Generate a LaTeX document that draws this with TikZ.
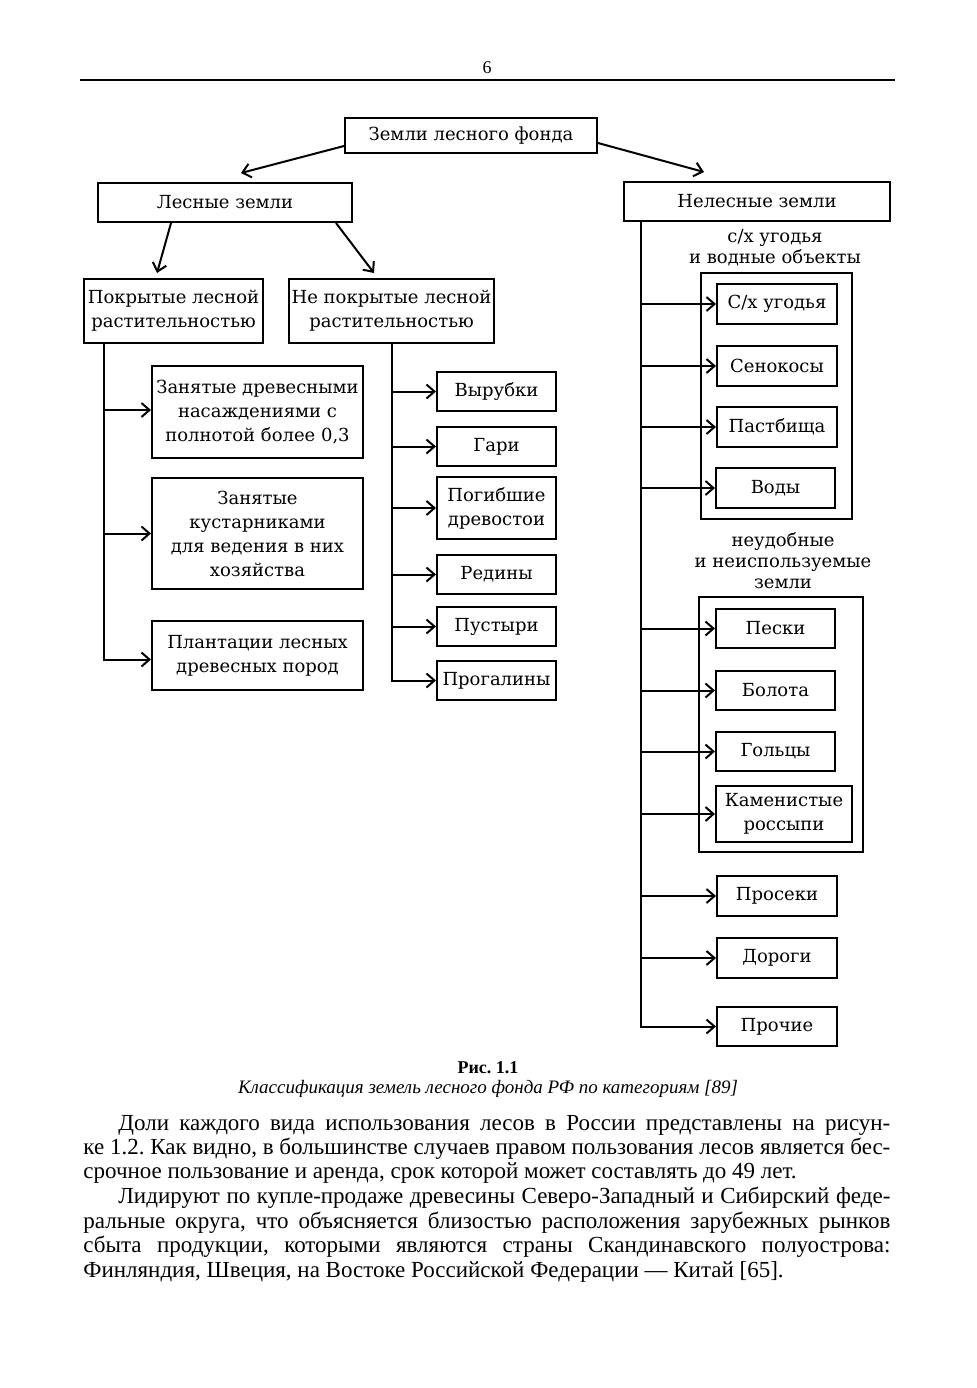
\documentclass[tikz,border=0pt]{standalone}
\usepackage{fontspec}
\setmainfont{Liberation Serif}
\newfontfamily\boxfont{DejaVu Serif}
\usetikzlibrary{arrows.meta,calc}
\frenchspacing
\newcommand\bx[6]{\node[box,minimum width={(#4-#2)*0.5pt},minimum height={(#5-#3)*0.5pt}] (#1) at ({(#2+#4)/2},{(#3+#5)/2}) {#6};}
\begin{document}
\begin{tikzpicture}[x=0.5pt,y=-0.5pt,
  box/.style={draw,line width=1pt,inner sep=0pt,align=center,font=\boxfont\fontsize{9}{12}\selectfont},
  grp/.style={draw,line width=1pt,inner sep=0pt},
  arr/.style={line width=1pt,-{Straight Barb[length=4pt,width=7pt,line width=1pt]}},
  ln/.style={line width=1pt},
  lab/.style={inner sep=0pt,align=center,font=\boxfont\fontsize{9}{10.5}\selectfont},
  body/.style={inner sep=0pt,anchor=base west,font=\fontsize{11.5}{12}\selectfont}]
\useasboundingbox (0,0) rectangle (976,1388);
% header
\node[inner sep=0pt,font=\fontsize{9}{10}\selectfont] (pg) at (487,68) {6};
\draw[line width=0.8pt] (80,80) -- (895,80);
% level 0,1
\bx{top}{345}{118}{597}{153}{Земли лесного фонда}
\bx{les}{98}{183}{352}{222}{Лесные земли}
\bx{nel}{624}{182}{890}{221}{Нелесные земли}
\draw[arr] ($(top.south west)+(0,-8)$) -- ($(les.north west)+(144,-9)$);
\draw[arr] ($(top.south east)+(0,-11)$) -- ($(nel.north west)+(81,-9)$);
% level 2
\bx{pokr}{84}{279}{263}{343}{Покрытые лесной\\растительностью}
\bx{nepokr}{289}{279}{494}{343}{Не покрытые лесной\\растительностью}
\draw[arr] ($(les.south west)+(74,0)$) -- ($(pokr.north west)+(74,-5)$);
\draw[arr] ($(les.south east)+(-17,0)$) -- ($(nepokr.north west)+(86,-5)$);
% left branch
\bx{a1}{152}{366}{363}{458}{Занятые древесными\\насаждениями с\\полнотой более 0,3}
\bx{a2}{152}{478}{363}{589}{Занятые\\кустарниками\\для ведения в них\\хозяйства}
\bx{a3}{152}{621}{363}{690}{Плантации лесных\\древесных пород}
\coordinate (lt) at ($(pokr.south west)+(21,0)$);
\draw[arr] (lt) |- ($(a1.west)+(0,-2)$);
\draw[arr] (lt) |- (a2.west);
\draw[arr] (lt) |- ($(a3.west)+(0,4)$);
% middle branch
\bx{b1}{437}{372}{556}{411}{Вырубки}
\bx{b2}{437}{427}{556}{466}{Гари}
\bx{b3}{437}{477}{556}{539}{Погибшие\\древостои}
\bx{b4}{437}{555}{556}{594}{Редины}
\bx{b5}{437}{607}{556}{646}{Пустыри}
\bx{b6}{437}{661}{556}{700}{Прогалины}
\foreach \n in {b1,b2,b3,b4,b5,b6}{\draw[arr] (nepokr.south) |- (\n.west);}
% right branch
\coordinate (rt) at ($(nel.south west)+(18,0)$);
\node[lab] (l1) at (775,248) {с/х угодья\\и водные объекты};
\node[grp,minimum width=75.5pt,minimum height=123pt] (g1) at (776.5,396) {};
\bx{c1}{717}{284}{837}{324}{С/х угодья}
\bx{c2}{717}{346}{837}{386}{Сенокосы}
\bx{c3}{717}{407}{837}{447}{Пастбища}
\bx{c4}{716}{468}{835}{508}{Воды}
\node[lab] (l2) at (783,561) {неудобные\\и неиспользуемые\\земли};
\node[grp,minimum width=82pt,minimum height=127.5pt] (g2) at (781,724.5) {};
\bx{d1}{716}{609}{835}{648}{Пески}
\bx{d2}{716}{671}{835}{710}{Болота}
\bx{d3}{716}{732}{835}{771}{Гольцы}
\bx{d4}{716}{786}{852}{842}{Каменистые\\россыпи}
\bx{e1}{717}{876}{837}{916}{Просеки}
\bx{e2}{717}{938}{837}{978}{Дороги}
\bx{e3}{717}{1007}{837}{1046}{Прочие}
\foreach \n in {c1,c2,c3,c4,d1,d2,d3,d4,e1,e2,e3}{\draw[arr] (rt) |- (\n.west);}
% caption
\node[inner sep=0pt,anchor=base,font=\bfseries\fontsize{9}{10}\selectfont] (cap1) at (488,1073) {Рис. 1.1};
\node[inner sep=0pt,anchor=base,font=\itshape\fontsize{9.5}{10}\selectfont] (cap2) at (488,1093) {Классификация земель лесного фонда РФ по категориям [89]};
% body text
\node[body] (t1) at (118,1130) {\hbox to 386pt{Доли каждого вида использования лесов в России представлены на рисун-}};
\node[body] (t2) at (83,1154) {\hbox to 403.5pt{ке 1.2. Как видно, в большинстве случаев правом пользования лесов является бес-}};
\node[body] (t3) at (83,1178) {срочное пользование и аренда, срок которой может составлять до 49 лет.};
\node[body] (t4) at (118,1203) {\hbox to 386pt{Лидируют по купле-продаже древесины Северо-Западный и Сибирский феде-}};
\node[body] (t5) at (83,1228) {\hbox to 403.5pt{ральные округа, что объясняется близостью расположения зарубежных рынков}};
\node[body] (t6) at (83,1252) {\hbox to 403.5pt{сбыта продукции, которыми являются страны Скандинавского полуострова:}};
\node[body] (t7) at (83,1277) {Финляндия, Швеция, на Востоке Российской Федерации — Китай [65].};
\end{tikzpicture}
\end{document}
